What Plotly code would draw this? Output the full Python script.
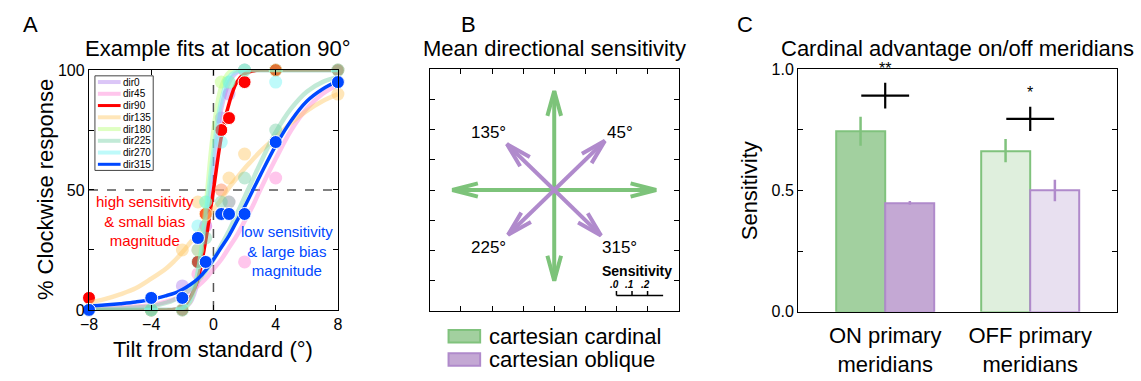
import math
import plotly.graph_objects as go

W, H = 1141, 381
FONT = "Liberation Sans, Arial, Helvetica, sans-serif"

# ---------------- Panel A data ----------------
tilts = [-8, -4, -2, -1, -0.5, 0.5, 1, 2, 4, 8]
directions = ["dir0", "dir45", "dir90", "dir135", "dir180", "dir225", "dir270", "dir315"]
resp_dir0 = [0, 0, 10, 25, 35, 80, 90, 100, 100, 100]
resp_dir45 = [0, 0, 5, 15, 35, 50, 45, 20, 55, 95]
resp_dir90 = [5, 0, 0, 20, 40, 75, 80, 95, 100, 100]
resp_dir135 = [0, 0, 25, 45, 40, 50, 55, 65, 70, 90]
resp_dir180 = [0, 0, 0, 25, 45, 95, 95, 100, 100, 100]
resp_dir225 = [0, 0, 5, 20, 30, 45, 45, 55, 75, 95]
resp_dir270 = [0, 0, 0, 35, 45, 70, 95, 100, 95, 100]
resp_dir315 = [0, 5, 5, 30, 20, 40, 40, 40, 70, 95]

fit_x = [-8, -7, -6, -5, -4, -3, -2.5, -2, -1.5, -1, -0.5, 0, 0.5, 1, 1.5, 2, 2.5, 3, 4, 5, 6, 7, 8]
fit_dir0 = [0, 0, 0, 0, 0, 0, 0.1, 0.5, 3, 12, 33, 61, 84, 95, 99, 100, 100, 100, 100, 100, 100, 100, 100]
fit_dir45 = [0.5, 0.7, 1, 1.4, 2, 3.5, 4.5, 6, 8, 10, 13, 17, 21, 26, 31, 37, 43, 50, 63, 75, 84, 90, 94]
fit_dir90 = [0, 0, 0, 0, 0, 0, 0.2, 1, 5, 13, 29, 50, 72, 86, 95, 98.5, 99.6, 100, 100, 100, 100, 100, 100]
fit_dir135 = [3, 4.5, 6.5, 9, 13, 17.5, 20.5, 24, 28, 32, 37, 42, 46, 51, 55, 59, 62.5, 66, 72, 78, 83, 87, 90]
fit_dir180 = [0, 0, 0, 0, 0, 0, 0, 0.4, 3.4, 16, 43, 75, 93, 99, 100, 100, 100, 100, 100, 100, 100, 100, 100]
fit_dir225 = [0, 0.3, 0.6, 1, 1.5, 3, 4.3, 6, 8.7, 12, 16, 21, 27, 33, 40, 47, 54, 61, 74, 84, 91, 95, 97]
fit_dir270 = [0, 0, 0, 0, 0, 0, 0.1, 0.8, 4.3, 16, 39, 66, 87, 97, 99.6, 100, 100, 100, 100, 100, 100, 100, 100]
fit_dir315 = [1.5, 2, 2.6, 3.3, 4.3, 6, 7, 8.5, 10.5, 13, 16.5, 21, 26, 31, 37, 43, 49.5, 56, 68.5, 79, 87, 92, 95.5]

dir_colors = ["rgba(170,120,235,0.42)", "rgba(255,120,210,0.42)", "rgb(255,0,0)",
              "rgba(255,200,100,0.45)", "rgba(185,255,120,0.45)", "rgba(110,205,160,0.42)",
              "rgba(110,245,245,0.45)", "rgb(0,72,255)"]
highlight = [False, False, True, False, False, False, False, True]

# ---------------- Panel B data ----------------
arrow_angles = [0, 45, 90, 135, 180, 225, 270, 315]
arrow_sens = [0.655, 0.46, 0.655, 0.43, 0.655, 0.42, 0.60, 0.425]
arrow_type = ["cardinal", "oblique", "cardinal", "oblique", "cardinal", "oblique", "cardinal", "oblique"]
angle_labels = ["135°", "45°", "225°", "315°"]
angle_label_x = [-0.42, 0.42, -0.42, 0.42]
angle_label_y = [0.38, 0.38, -0.38, -0.38]
scale_ticks = [0.0, 0.1, 0.2]
scale_labels = [".0", ".1", ".2"]
legend_b = ["cartesian cardinal", "cartesian oblique"]

# ---------------- Panel C data ----------------
groups = ["ON primary<br>meridians", "OFF primary<br>meridians"]
group_pos = [1, 2]
card_mean = [0.744, 0.664]
card_se = [0.06, 0.048]
obl_mean = [0.449, 0.50]
obl_se = [0.008, 0.044]
sig_y = [0.891, 0.795]
sig_half = [0.053, 0.05]
sig_labels = ["**", "*"]

card_edge = "#80c27d"
obl_edge = "#b08acb"
card_fill = ["#a2d09f", "#dfefdd"]
obl_fill = ["#c4a8d4", "#e8e0f0"]


def px(x):
    return x / W


def py(y):
    return 1 - y / H


def ann(text, x, y, size, color="black", xanchor="center", yanchor="middle", angle=0):
    return dict(text=text, x=px(x), y=py(y), xref="paper", yref="paper", showarrow=False,
                font=dict(family=FONT, size=size, color=color), xanchor=xanchor,
                yanchor=yanchor, textangle=angle, borderpad=0)


fig = go.Figure()

# Panel A traces
resp_all = [resp_dir0, resp_dir45, resp_dir90, resp_dir135, resp_dir180, resp_dir225, resp_dir270, resp_dir315]
fit_all = [fit_dir0, fit_dir45, fit_dir90, fit_dir135, fit_dir180, fit_dir225, fit_dir270, fit_dir315]
for name, r, f, c, hl in zip(directions, resp_all, fit_all, dir_colors, highlight):
    fig.add_trace(go.Scatter(x=fit_x, y=f, mode="lines", line=dict(color=c, width=3.5 if hl else 4.5, shape="spline"),
                             xaxis="x", yaxis="y", showlegend=False, cliponaxis=False, name=name))
    fig.add_trace(go.Scatter(x=tilts, y=r, mode="markers",
                             marker=dict(color=c, size=13, line=dict(color="white", width=1 if hl else 0)),
                             xaxis="x", yaxis="y", showlegend=False, cliponaxis=False, name=name))

# Panel B arrows
card_color = "#7dc37a"
obl_color = "#b08acc"
head_len = 0.17
head_ang = math.radians(15)
for kind in ["cardinal", "oblique"]:
    for ang, s, t in zip(arrow_angles, arrow_sens, arrow_type):
        if t != kind:
            continue
        th = math.radians(ang)
        tx, ty = s * math.cos(th), s * math.sin(th)
        back = th + math.pi
        a1 = (tx + head_len * math.cos(back + head_ang), ty + head_len * math.sin(back + head_ang))
        a2 = (tx + head_len * math.cos(back - head_ang), ty + head_len * math.sin(back - head_ang))
        col = card_color if t == "cardinal" else obl_color
        fig.add_trace(go.Scatter(x=[0, tx, None, a1[0], tx, a2[0]], y=[0, ty, None, a1[1], ty, a2[1]],
                                 mode="lines", line=dict(color=col, width=4), xaxis="x2", yaxis="y2",
                                 showlegend=False, hoverinfo="skip"))

# Panel C bars
fig.add_trace(go.Bar(x=group_pos, y=card_mean, width=0.34, offset=-0.34, xaxis="x3", yaxis="y3",
                     marker=dict(color=card_fill, line=dict(color=card_edge, width=2)),
                     error_y=dict(type="data", array=card_se, color=card_edge, thickness=2.5, width=0),
                     showlegend=False, name="cartesian cardinal"))
fig.add_trace(go.Bar(x=group_pos, y=obl_mean, width=0.34, offset=0, xaxis="x3", yaxis="y3",
                     marker=dict(color=obl_fill, line=dict(color=obl_edge, width=2)),
                     error_y=dict(type="data", array=obl_se, color=obl_edge, thickness=2.5, width=0),
                     showlegend=False, name="cartesian oblique"))
for gx, sy, sh in zip(group_pos, sig_y, sig_half):
    fig.add_trace(go.Scatter(x=[gx - 0.165, gx + 0.165, None, gx, gx], y=[sy, sy, None, sy - sh, sy + sh],
                             mode="lines", line=dict(color="black", width=2.2), xaxis="x3", yaxis="y3",
                             showlegend=False, hoverinfo="skip"))

annotations = []
shapes = []

# titles and panel letters
annotations += [
    ann("A", 22, 17, 22), ann("B", 465, 17, 22), ann("C", 745, 17, 22),
    ann("Example fits at location 90°", 212, 42.5, 22),
    ann("Mean directional sensitivity", 552, 42.5, 22),
    ann("Cardinal advantage on/off meridians", 960, 42.5, 22),
    ann("% Clockwise response", 37, 190, 22, angle=-90),
    ann("Tilt from standard (°)", 207, 357, 22),
    ann("Sensitivity", 750, 191, 22, angle=-90),
    ann("high sensitivity<br>& small bias<br>magnitude", 137.5, 223, 15, color="#ff0000"),
    ann("low sensitivity<br>& large bias<br>magnitude", 281.5, 254, 15, color="#0048ff"),
]

# Panel A dashed reference lines
shapes.append(dict(type="line", xref="x", yref="y", x0=0, x1=0, y0=0, y1=100, layer="below",
                   line=dict(color="#555555", width=1.5, dash="dash")))
shapes.append(dict(type="line", xref="x", yref="y", x0=-8, x1=8, y0=50, y1=50, layer="below",
                   line=dict(color="#555555", width=1.5, dash="dash")))

# Panel A legend (manual)
shapes.append(dict(type="rect", xref="paper", yref="paper", x0=px(87), x1=px(146), y0=py(170), y1=py(71),
                   fillcolor="white", line=dict(color="#444444", width=1)))
for i, (name, c, hl) in enumerate(zip(directions, dir_colors, highlight)):
    yy = 77.5 + 12.3 * i
    shapes.append(dict(type="line", xref="paper", yref="paper", x0=px(90), x1=px(113), y0=py(yy), y1=py(yy),
                       line=dict(color=c, width=3 if hl else 4)))
    annotations.append(ann(name, 114, yy, 10, xanchor="left"))

# Panel B direction labels and scale bar
for t, lx, ly in zip(angle_labels, angle_label_x, angle_label_y):
    annotations.append(dict(text=t, x=lx, y=ly, xref="x2", yref="y2", showarrow=False,
                            font=dict(family=FONT, size=17, color="black")))
scale_y = -0.698
scale_x0 = 0.4
shapes.append(dict(type="line", xref="x2", yref="y2", x0=scale_x0, x1=scale_x0 + 0.3, y0=scale_y, y1=scale_y,
                   line=dict(color="black", width=1.5)))
for st, sl in zip(scale_ticks, scale_labels):
    shapes.append(dict(type="line", xref="x2", yref="y2", x0=scale_x0 + st, x1=scale_x0 + st,
                       y0=scale_y, y1=scale_y + 0.03, line=dict(color="black", width=1.5)))
    annotations.append(dict(text="<b><i>" + sl + "</i></b>", x=scale_x0 + st - 0.015, y=scale_y + 0.075,
                            xref="x2", yref="y2", showarrow=False,
                            font=dict(family=FONT, size=10, color="black")))
annotations.append(dict(text="<b>Sensitivity</b>", x=0.53, y=-0.535, xref="x2", yref="y2", showarrow=False,
                        font=dict(family=FONT, size=14, color="black")))

# Panel B legend
for i, (lab, fc, ec) in enumerate(zip(legend_b, [card_fill[0], obl_fill[0]], [card_edge, obl_edge])):
    yc = 343.5 + 24.5 * i
    shapes.append(dict(type="rect", xref="paper", yref="paper", x0=px(445), x1=px(477), y0=py(yc + 6.5),
                       y1=py(yc - 6.5), fillcolor=fc, line=dict(color=ec, width=2)))
    annotations.append(ann(lab, 485, yc, 22, xanchor="left"))

# Panel C significance stars
for gx, sy, sh, sl in zip(group_pos, sig_y, sig_half, sig_labels):
    annotations.append(dict(text=sl, x=gx, y=sy + sh + 0.015, xref="x3", yref="y3", showarrow=False,
                            yanchor="bottom", font=dict(family=FONT, size=16, color="black")))

axis_common = dict(showline=True, linecolor="black", linewidth=1.3, mirror="ticks", showgrid=False,
                   zeroline=False, ticks="inside", ticklen=5, tickwidth=1, tickcolor="black",
                   tickfont=dict(family=FONT, size=16, color="black"))

fig.update_layout(
    width=W, height=H, margin=dict(l=0, r=0, t=0, b=0), paper_bgcolor="white", plot_bgcolor="white",
    showlegend=False, bargap=0,
    xaxis=dict(domain=[px(81), px(333)], range=[-8, 8], tickvals=[-8, -4, 0, 4, 8], anchor="y", **axis_common),
    yaxis=dict(domain=[py(316), py(65)], range=[0, 100], tickvals=[0, 25, 50, 75, 100],
               ticktext=["0", "", "50", "", "100"], anchor="x", **axis_common),
    xaxis2=dict(domain=[px(426), px(678)], range=[-0.8, 0.8], dtick=0.2, tick0=0, showticklabels=False,
                anchor="y2", **axis_common),
    yaxis2=dict(domain=[py(317), py(64)], range=[-0.8, 0.8], dtick=0.2, tick0=0, showticklabels=False,
                anchor="x2", **axis_common),
    xaxis3=dict(domain=[px(799), px(1122)], range=[0.4, 2.6], tickvals=group_pos, ticktext=groups,
                anchor="y3", showline=True, linecolor="black", linewidth=1.3, mirror=True, showgrid=False,
                zeroline=False, ticks="", ticklabelstandoff=4,
                tickfont=dict(family=FONT, size=22, color="black")),
    yaxis3=dict(domain=[py(318), py(64)], range=[0, 1], tickvals=[0, 0.25, 0.5, 0.75, 1],
                ticktext=["0.0", "", "0.5", "", "1.0"], anchor="x3", **axis_common),
    annotations=annotations, shapes=shapes,
)

fig.write_html("out.html")
